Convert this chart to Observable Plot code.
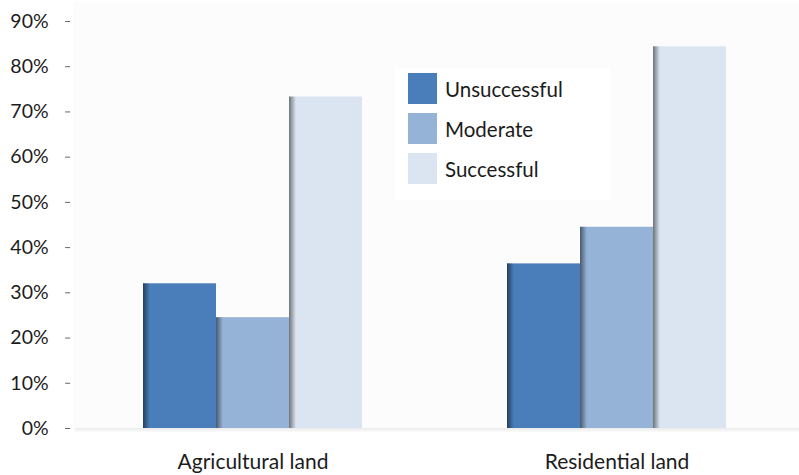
<!DOCTYPE html>
<html>
<head>
<meta charset="utf-8">
<script src="https://cdn.jsdelivr.net/npm/d3@7"></script>
<script src="https://cdn.jsdelivr.net/npm/@observablehq/plot@0.6"></script>
<style>
  body { margin: 0; background: #ffffff; }
  #wrap { position: relative; width: 799px; height: 475px; font-family: Lato, "Noto Sans", sans-serif; }
  #legend { position: absolute; left: 394px; top: 68px; width: 216px; height: 132px; background: #ffffff; }
  .li { position: absolute; left: 14px; height: 31px; display: flex; align-items: center; }
  .sw { width: 29px; height: 31px; margin-right: 8px; }
  .lt { font-size: 20.5px; color: #1c1c1c; }
</style>
</head>
<body>
<div id="wrap"><div id="legend"></div></div>
<script>
const categories = ["Agricultural land", "Residential land"];
const series = ["Unsuccessful", "Moderate", "Successful"];
const agricultural = [0.32, 0.245, 0.733];
const residential = [0.364, 0.445, 0.844];
const colors = ["#4a7ebb", "#95b3d7", "#dbe5f1"];
const yTicks = [0, 0.1, 0.2, 0.3, 0.4, 0.5, 0.6, 0.7, 0.8, 0.9];

const values = [agricultural, residential];
const data = [];
categories.forEach((c, i) => series.forEach((s, j) => data.push({category: c, series: s, value: values[i][j]})));

const W = 799, H = 475, ML = 73, MR = 3, MT = 21, MB = 47;
const padInner = 0.398, padOuter = 0.192;
const step = (W - ML - MR) / (categories.length - padInner + 2 * padOuter);
const barW = step * (1 - padInner) / series.length;
const outer = padOuter * step;

const chart = Plot.plot({
  width: W, height: H,
  marginLeft: ML, marginRight: MR, marginTop: MT, marginBottom: MB,
  style: {fontFamily: "Lato, 'Noto Sans', sans-serif", background: "transparent", overflow: "visible"},
  fx: {domain: categories, paddingInner: padInner, paddingOuter: padOuter, label: null},
  x: {domain: series, padding: 0, axis: null},
  y: {domain: [0, 0.9], label: null},
  color: {domain: series, range: colors},
  marks: [
    Plot.barY(data, {fx: "category", x: "series", y: "value", fill: "series"}),
    Plot.barY(data, {fx: "category", x: "series", y: "value", fill: "url(#shade)", insetRight: barW - 7}),
    Plot.axisY({ticks: yTicks, tickFormat: d => Math.round(d * 100) + "%", tickSize: 5, tickPadding: 17, dx: -outer - 3,
      stroke: "#666", fontSize: 19.5, fill: "#1c1c1c", label: null}),
    Plot.axisFx({anchor: "bottom", tickSize: 0, tickPadding: 26, fontSize: 21, fill: "#1c1c1c", label: null})
  ]
});

const svg = d3.select(chart);
const defs = svg.insert("defs", ":first-child");
const g = defs.append("linearGradient").attr("id", "shade").attr("x1", 0).attr("x2", 1).attr("y1", 0).attr("y2", 0);
g.append("stop").attr("offset", 0).attr("stop-color", "#000").attr("stop-opacity", 0.5);
g.append("stop").attr("offset", 1).attr("stop-color", "#000").attr("stop-opacity", 0);
const gs = defs.append("linearGradient").attr("id", "bshadow").attr("x1", 0).attr("x2", 0).attr("y1", 0).attr("y2", 1);
gs.append("stop").attr("offset", 0).attr("stop-color", "#000").attr("stop-opacity", 0.08);
gs.append("stop").attr("offset", 1).attr("stop-color", "#000").attr("stop-opacity", 0);
const yScale = chart.scale("y");
const y0 = yScale.apply(0);
svg.insert("rect", "defs + *").attr("x", ML).attr("y", 3).attr("width", W - ML).attr("height", y0 - 3).attr("fill", "#fcfcfc");
svg.insert("rect", "defs + *").attr("x", ML + 2).attr("y", y0).attr("width", W - ML).attr("height", 5).attr("fill", "url(#bshadow)");

document.getElementById("wrap").prepend(chart);

const legend = d3.select("#legend");
series.forEach((s, i) => {
  const row = legend.append("div").attr("class", "li").style("top", (5 + i * 40) + "px");
  row.append("div").attr("class", "sw").style("background", colors[i]);
  row.append("span").attr("class", "lt").text(s);
});
</script>
</body>
</html>
